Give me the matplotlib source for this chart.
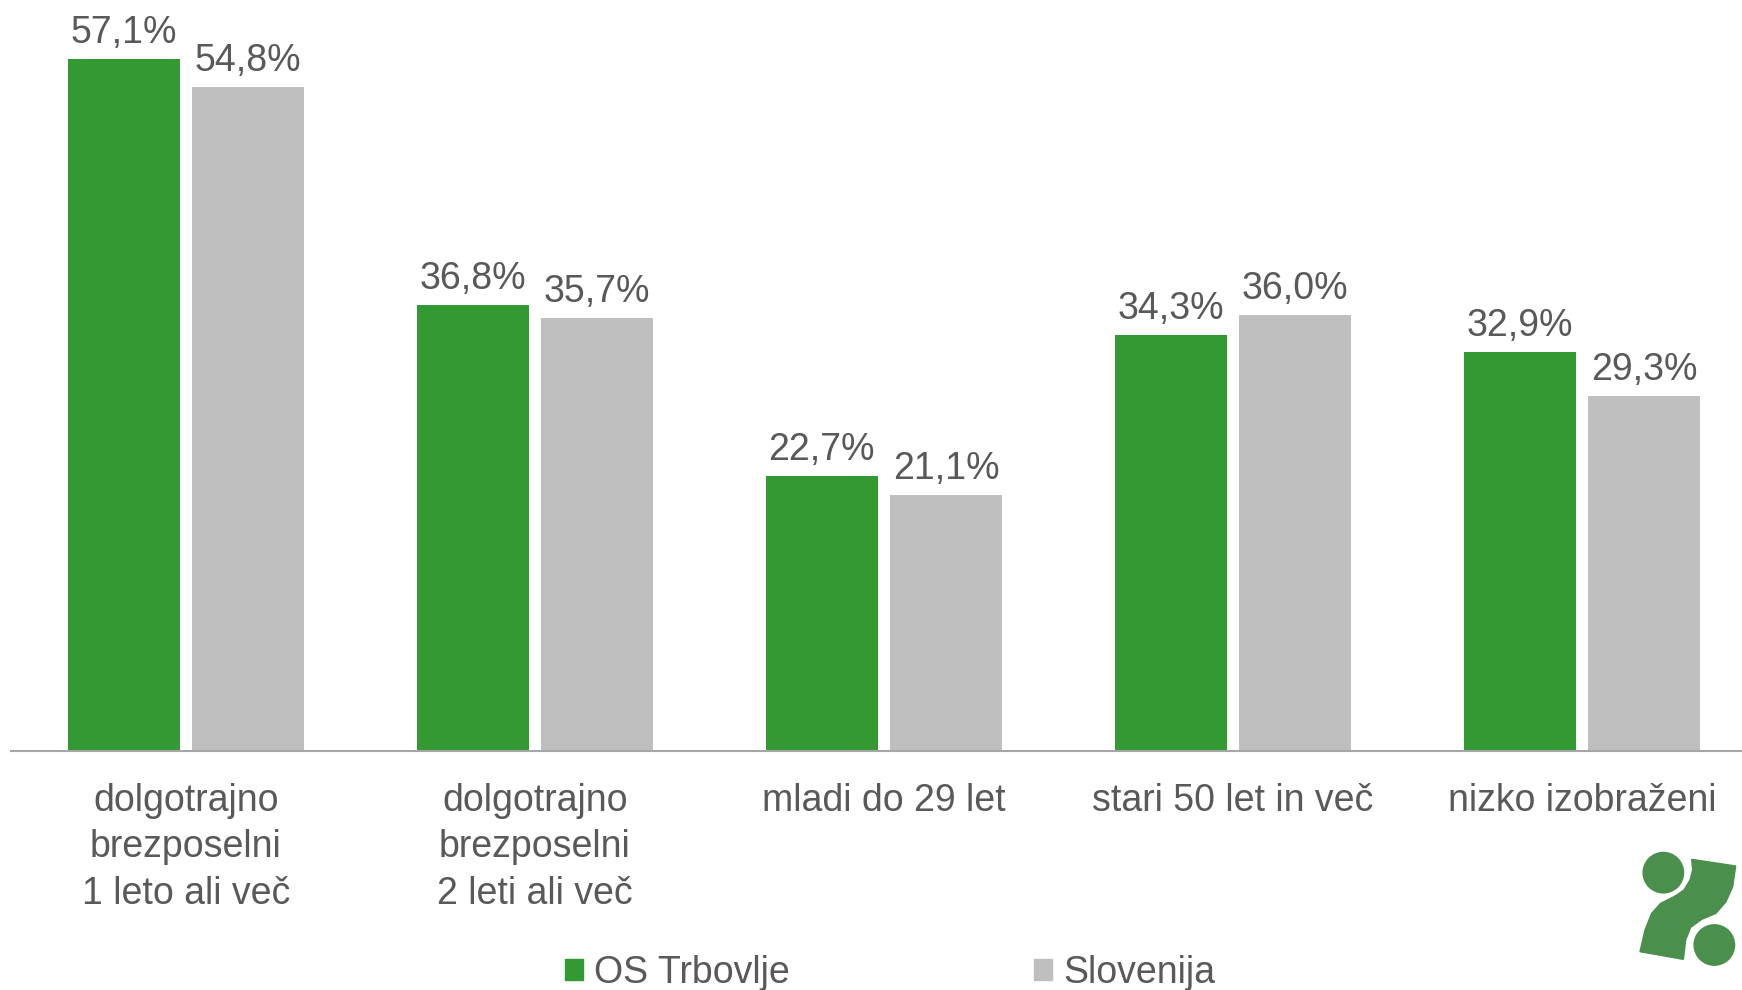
import numpy as np
import matplotlib
matplotlib.use("Agg")
import matplotlib.pyplot as plt
from matplotlib.patches import Polygon, Ellipse, Patch

plt.rcParams['font.family'] = ['Liberation Sans', 'DejaVu Sans']

# podatki
categories = ["dolgotrajno\nbrezposelni\n1 leto ali več",
              "dolgotrajno\nbrezposelni\n2 leti ali več",
              "mladi do 29 let",
              "stari 50 let in več",
              "nizko izobraženi"]
os_trbovlje = [57.1, 36.8, 22.7, 34.3, 32.9]
slovenija = [54.8, 35.7, 21.1, 36.0, 29.3]
series_names = ["OS Trbovlje", "Slovenija"]

green = '#339933'
grey = '#BFBFBF'
txt = '#595959'

W, H = 1742, 990
fig = plt.figure(figsize=(W / 100, H / 100), dpi=100)
ax = fig.add_axes([11 / W, 239 / H, (W - 11) / W, 751 / H])

x = np.arange(len(categories))
bw = 0.321
off = 0.178
b1 = ax.bar(x - off, os_trbovlje, bw, color=green)
b2 = ax.bar(x + off, slovenija, bw, color=grey)

def fmt(v):
    return f"{v:.1f}".replace('.', ',') + '%'

for bars, vals in [(b1, os_trbovlje), (b2, slovenija)]:
    for b, v in zip(bars, vals):
        ax.annotate(fmt(v), (b.get_x() + b.get_width() / 2, v),
                    xytext=(0, 11.5), textcoords='offset points',
                    ha='center', va='baseline', fontsize=27, color=txt)

ax.set_xlim(-0.501, 4.458)
ax.set_ylim(0, 61.96)
ax.set_xticks(x, categories)
ax.tick_params(axis='x', length=0, pad=23, labelsize=27, labelcolor=txt)
for t in ax.get_xticklabels():
    t.set_linespacing(1.37)
ax.set_yticks([])
for s in ['top', 'left', 'right']:
    ax.spines[s].set_visible(False)
ax.spines['bottom'].set_color('#A6A6A6')
ax.spines['bottom'].set_linewidth(1.5)
ax.patch.set_alpha(0)

# legenda
handles = [Patch(color=green), Patch(color=grey)]
leg = fig.legend(handles, series_names, loc='center', ncol=2,
                 bbox_to_anchor=(890 / W, 1 - 973 / H), frameon=False,
                 fontsize=27, handlelength=0.48, handleheight=0.48,
                 handletextpad=0.3, columnspacing=6.5, borderpad=0)
for t in leg.get_texts():
    t.set_color(txt)

# logotip
def px(zx, zy):
    return ((1620 + zx / 3) / W, 1 - (830 + zy / 3) / H)

logo = '#4A8F4C'
shape = [(215, 88), (347, 108), (338, 170), (318, 215), (288, 250), (245, 268),
         (212, 292), (197, 330), (190, 388), (60, 365), (75, 300), (95, 250),
         (122, 220), (162, 200), (192, 180), (210, 150), (218, 120)]
fig.patches.append(Polygon([px(*p) for p in shape], closed=True, color=logo,
                           transform=fig.transFigure, figure=fig))
for cx, cy in [(130, 128), (283, 345)]:
    fig.patches.append(Ellipse(px(cx, cy), 46 / W, 46 / H, facecolor=logo,
                               edgecolor='white', linewidth=3,
                               transform=fig.transFigure, figure=fig))

fig.savefig('out.png', dpi=100)
